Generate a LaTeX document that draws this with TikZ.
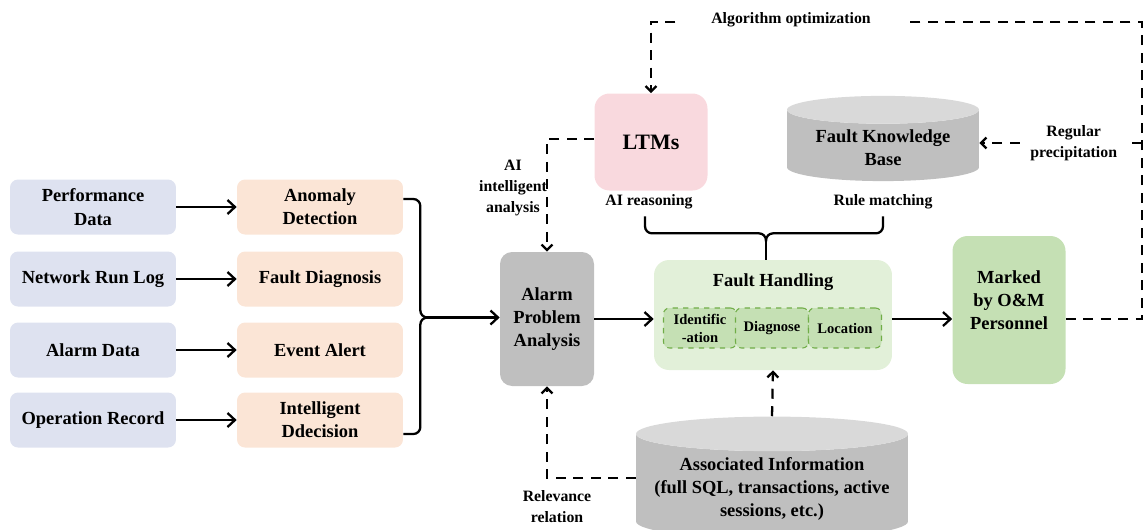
\documentclass[tikz,border=0pt]{standalone}
\usepackage{fontspec}
\setmainfont{Liberation Serif}
\usepackage{tikz}
\usetikzlibrary{positioning,arrows.meta,calc,shapes.geometric}
\definecolor{srcblue}{HTML}{DEE2F0}
\definecolor{taskorg}{HTML}{FBE5D6}
\definecolor{apagray}{HTML}{BFBFBF}
\definecolor{cyltop}{HTML}{D9D9D9}
\definecolor{ltmpink}{HTML}{F9D9DE}
\definecolor{fhgreen}{HTML}{E2F0D9}
\definecolor{subgreen}{HTML}{C5E0B4}
\definecolor{subedge}{HTML}{70AD47}
\newcommand{\boxfont}{\fontsize{10.5}{13.2}\selectfont\bfseries}
\newcommand{\lblfont}{\fontsize{9}{12}\selectfont\bfseries}
\newcommand{\subfont}{\fontsize{8.3}{10.2}\selectfont\bfseries}
\newcommand{\ltmfont}{\fontsize{12.5}{15}\selectfont\bfseries}
\tikzset{
  base/.style  ={rectangle, align=center, font=\boxfont, inner sep=2pt},
  srcbox/.style={base, fill=srcblue, minimum width=3.32cm, minimum height=1.1cm,
                 rounded corners=1.6mm},
  tskbox/.style={srcbox, fill=taskorg},
  apabox/.style={base, fill=apagray, minimum width=1.88cm, minimum height=2.68cm,
                 rounded corners=2.4mm},
  ltmbox/.style={base, fill=ltmpink, minimum width=2.26cm, minimum height=1.94cm,
                 rounded corners=3mm, font=\ltmfont},
  fhbox/.style ={base, fill=fhgreen, minimum width=4.76cm, minimum height=2.2cm,
                 rounded corners=3mm},
  subbox/.style={base, fill=subgreen, draw=subedge, dashed, line width=0.6pt,
                 minimum width=1.46cm, minimum height=0.8cm, rounded corners=1.2mm,
                 font=\subfont, inner sep=1pt},
  mkbox/.style ={base, fill=subgreen, minimum width=2.26cm, minimum height=2.96cm,
                 rounded corners=3mm},
  dbase/.style ={cylinder, shape border rotate=90, draw=none, align=center,
                 cylinder uses custom fill, cylinder body fill=apagray,
                 cylinder end fill=cyltop, font=\boxfont},
  lbl/.style   ={align=center, font=\lblfont, inner sep=1pt},
  % solid flow and dashed feedback connectors
  bline/.style ={draw, line width=1.3pt},
  arr/.style   ={bline, -{Straight Barb[length=1.5mm,width=2.8mm]}},
  dline/.style ={bline, dash pattern=on 2mm off 1.5mm,
                 -{Straight Barb[length=1.1mm,width=2.2mm]}},
}

\begin{document}
\begin{tikzpicture}[x=0.02cm,y=-0.02cm]
\useasboundingbox (0,0) rectangle (1145,529);
% data sources and first-level tasks
\foreach \i/\yy/\srctxt/\tsktxt in {1/207/{Performance\\Data}/{Anomaly\\Detection},
    2/279/{Network Run Log}/{Fault Diagnosis}, 3/350/{Alarm Data}/{Event Alert},
    4/420/{Operation Record}/{Intelligent\\Ddecision}}
  {\node[srcbox] (src\i) at (93,\yy) {\srctxt};
   \node[tskbox] (tsk\i) at (320,\yy) {\tsktxt};
   \draw[arr] (src\i) -- (tsk\i);}
\node[apabox] (apa) at (547,319) {Alarm\\Problem\\Analysis};
% bracket gathering the four tasks
\coordinate (lj) at ($(tsk1.east)!0.5!(tsk4.east)+(17,4)$);
\draw[bline, rounded corners=4pt] ($(tsk1.east)+(0,-8)$) -| (lj) -- ++(8,0);
\draw[bline, rounded corners=4pt] ($(tsk4.east)+(0,14)$) -| (lj) -- ++(8,0);
\draw[arr] ($(lj)+(6,0)$) -- (lj -| apa.west);
% handling stage
\node[fhbox] (fh) at (773,315) {};
\node[font=\boxfont] (fht) at (773,282) {Fault Handling};
\foreach \j/\xx/\txt in {1/700/{Identific\\-ation}, 2/772/Diagnose, 3/845/Location}
  {\node[subbox] (sub\j) at (\xx,328) {\txt};}
\draw[arr] (apa.east) -- (apa.east -| fh.west);
\node[mkbox] (mk) at (1009,310) {};
\node[font=\boxfont, align=center] (mkt) at (1009,300) {Marked\\by O\&M\\Personnel};
\draw[arr] (apa.east -| fh.east) -- (apa.east -| mk.west);
% knowledge sources
\node[ltmbox] (ltm) at (651,142) {LTMs};
\node[dbase, minimum width=3.84cm, minimum height=1.6cm, aspect=0.19] (fkb)
     at (883,148) {Fault Knowledge\\Base};
\node[lbl] (air) at (649,202) {AI reasoning};
\node[lbl] (rmt) at (883,202) {Rule matching};
\coordinate (bj) at ($(air.south)!0.5!(rmt.south)+(0,22)$);
\draw[bline, rounded corners=4pt] ($(air.south)+(-4,5)$) |- (bj) -- ++(0,8);
\draw[bline, rounded corners=4pt] ($(rmt.south)+(0,5)$) |- (bj) -- ++(0,8);
\draw[bline] ($(bj)+(0,6)$) -- (bj |- fh.north);
\node[dbase, minimum width=5.44cm, minimum height=2.3cm, aspect=0.14] (ai)
     at (772,489) {Associated Information\\(full SQL, transactions, active\\sessions, etc.)};
% feedback paths
\coordinate (ctop) at (1142,22);
\coordinate (cmid) at (1142,143);
\draw[dline] (apa.east -| mk.east) -| (ctop) -| (ltm.north);
\node[lbl, fill=white, inner xsep=0.64cm] (algo) at (791,20) {Algorithm optimization};
\draw[dline] (cmid) -- (fkb.east |- cmid)
  node[lbl, pos=0.42, fill=white, inner xsep=0.2cm] (regp) {Regular\\precipitation};
\draw[dline] ($(ltm.west)+(0,-3)$) -| (apa.north);
\node[lbl] (aia) at (513,188) {AI\\intelligent\\analysis};
\draw[dline] ($(ai.west)+(0,-11)$) -| (apa.south);
\node[lbl] (rel) at (557,507) {Relevance\\relation};
\draw[dline] (ai.north) -- (fh.south);
\end{tikzpicture}
\end{document}
